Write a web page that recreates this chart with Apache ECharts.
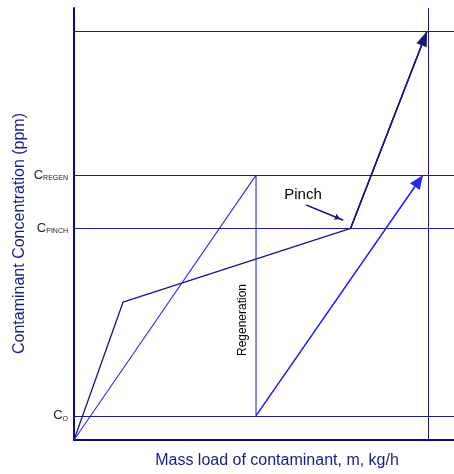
<!DOCTYPE html>
<html><head><meta charset="utf-8">
<script src="https://cdn.jsdelivr.net/npm/echarts@6/dist/echarts.min.js"></script>
<style>html,body{margin:0;padding:0;background:#fff}#c{width:454px;height:474px}</style>
</head><body><div id="c"></div>
<script>
// Axis ranges (arbitrary units, no numeric ticks in the original)
const xMax = 100, yMax = 100;
// Concentration levels (horizontal reference lines) and their labels
const levelSubs = ['O', 'PINCH', 'REGEN', ''];
const levelValues = [5.6, 49.0, 61.3, 94.6];
// Vertical reference line (maximum mass load)
const massLoadEnd = 93.1;
// Composite curve of the rich streams
const compositeX = [0, 12.9, 72.8, 92.9];
const compositeY = [0, 31.9, 49.0, 94.6];
// Mass separating agent line incl. regeneration
const agentX = [0, 47.9, 47.9, 91.8];
const agentY = [0, 61.3, 5.6, 61.3];
// Pinch annotation arrow
const pinchArrowX = [61.1, 70.8];
const pinchArrowY = [54.4, 50.9];

const FONT = '"Liberation Sans", Arial, sans-serif';
const NAVY = '#0b0b8e';
const GRIDC = '#1c1c8e';
const DARK = '#16167e';
const BLUE = '#2a2af2';

const pairs = (xs, ys) => xs.map((x, i) => [x, ys[i]]);
const last = (xs, ys) => [[xs[xs.length - 2], ys[ys.length - 2]], [xs[xs.length - 1], ys[ys.length - 1]]];

function arrowSeries(coords, color, width, size, shape) {
  const ls = {color: color, width: width, type: 'solid'};
  return {
    type: 'line', data: coords, symbol: 'none', z: 4,
    lineStyle: ls,
    markLine: {
      silent: true, animation: false,
      lineStyle: ls,
      label: {show: false},
      data: [[
        {coord: coords[0], symbol: 'none', lineStyle: ls},
        {coord: coords[1], symbol: shape, symbolSize: size, symbolOffset: [0, size[1] / 2], lineStyle: ls}
      ]]
    }
  };
}

const chart = echarts.init(document.getElementById('c'), null, {renderer: 'canvas'});
chart.setOption({
  animation: false,
  backgroundColor: '#fff',
  grid: {left: 74, right: 0, top: 8, bottom: 34, containLabel: false, outerBoundsMode: 'none'},
  xAxis: {type: 'value', min: 0, max: xMax,
    axisLine: {show: true, lineStyle: {color: NAVY, width: 2}},
    axisTick: {show: false}, axisLabel: {show: false}, splitLine: {show: false}},
  yAxis: {type: 'value', min: 0, max: yMax,
    axisLine: {show: true, lineStyle: {color: NAVY, width: 2}},
    axisTick: {show: false}, axisLabel: {show: false}, splitLine: {show: false}},
  graphic: [
    {type: 'text', x: 20, y: 233.5, rotation: Math.PI / 2,
      style: {text: 'Contaminant Concentration (ppm)', font: '16px ' + FONT, fill: '#1a1a8c', align: 'center', verticalAlign: 'middle'}},
    {type: 'text', x: 277, y: 461,
      style: {text: 'Mass load of contaminant, m, kg/h', font: '16px ' + FONT, fill: '#1a1a8c', align: 'center', verticalAlign: 'middle'}},
    {type: 'text', x: 303, y: 195,
      style: {text: 'Pinch', font: '15px ' + FONT, fill: '#000', align: 'center', verticalAlign: 'middle'}},
    {type: 'text', x: 243, y: 320, rotation: Math.PI / 2,
      style: {text: 'Regeneration', font: '12px ' + FONT, fill: '#000', align: 'center', verticalAlign: 'middle'}}
  ],
  series: [
    {type: 'line', name: 'Composite', data: pairs(compositeX, compositeY), symbol: 'none',
      lineStyle: {color: DARK, width: 1.3}, z: 3,
      markLine: {silent: true, symbol: 'none', animation: false,
        lineStyle: {color: GRIDC, width: 1, type: 'solid'},
        label: {show: true, position: 'start', distance: 6,
          formatter: p => p.name ? '{c|C}{s|' + p.name + '}' : '',
          rich: {
            c: {fontSize: 13, fontFamily: FONT, color: '#222'},
            s: {fontSize: 7, fontFamily: FONT, color: '#222', verticalAlign: 'bottom'}
          }},
        data: levelValues.map((v, i) => ({yAxis: v, name: levelSubs[i], label: {show: !!levelSubs[i]}}))
          .concat([{xAxis: massLoadEnd, label: {show: false}}])
      }},
    {type: 'line', name: 'Agent', data: pairs(agentX, agentY), symbol: 'none',
      lineStyle: {color: BLUE, width: 1.1}, z: 3},
    arrowSeries(last(compositeX, compositeY), DARK, 1.3, [11, 15], 'triangle'),
    arrowSeries(last(agentX, agentY), BLUE, 1.1, [12, 14], 'triangle'),
    arrowSeries(pairs(pinchArrowX, pinchArrowY), DARK, 1.3, [5, 6], 'arrow')
  ]
});
</script></body></html>
